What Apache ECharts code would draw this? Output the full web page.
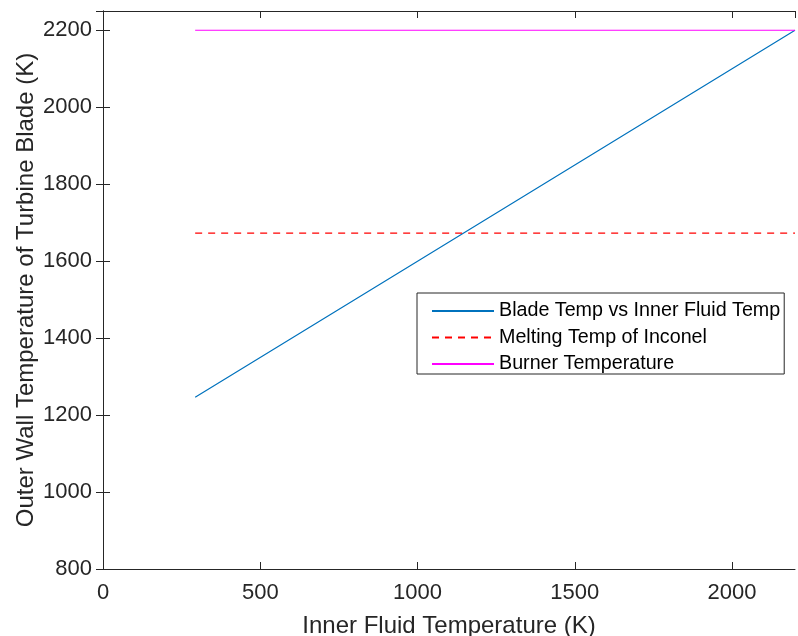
<!DOCTYPE html>
<html>
<head>
<meta charset="utf-8">
<script src="https://cdn.jsdelivr.net/npm/echarts@6/dist/echarts.min.js"></script>
<style>html,body{margin:0;padding:0;background:#fff}#c{width:798px;height:636px}</style>
</head>
<body>
<div id="c"></div>
<script>
// Data
const bladeX = [293, 1000, 2200];
const bladeY = [1246.5, 1600, 2200];
const meltX = [293, 2200];
const meltY = [1673, 1673];
const burnerX = [293, 2200];
const burnerY = [2200, 2200];
const xTicks = [0, 500, 1000, 1500, 2000];
const yTicks = [800, 1000, 1200, 1400, 1600, 1800, 2000, 2200];
const seriesNames = ['Blade Temp vs Inner Fluid Temp', 'Melting Temp of Inconel', 'Burner Temperature'];

const zip = (xs, ys) => xs.map((x, i) => [x, ys[i]]);
const ink = '#262626';
const font = 'Liberation Sans, Arial, Helvetica, sans-serif';

const axisCommon = {
  axisLine: { show: true, lineStyle: { color: ink, width: 1 } },
  axisTick: { show: true, inside: true, length: 7, lineStyle: { color: ink } },
  splitLine: { show: false }
};

const chart = echarts.init(document.getElementById('c'), null, { renderer: 'canvas' });
chart.setOption({
  animation: false,
  backgroundColor: '#fff',
  grid: { left: 103, right: 3, top: 11, bottom: 67, containLabel: false, outerBoundsMode: 'none' },
  xAxis: [
    Object.assign({}, axisCommon, {
      type: 'value', min: 0, max: 2200, interval: 500, position: 'bottom',
      name: 'Inner Fluid Temperature (K)', nameLocation: 'middle', nameGap: 45, nameMoveOverlap: false,
      nameTextStyle: { color: ink, fontSize: 24, fontFamily: font },
      axisLabel: { color: ink, fontSize: 22, fontFamily: font, margin: 13, showMaxLabel: false,
        formatter: v => xTicks.includes(v) ? String(v) : '' }
    }),
    Object.assign({}, axisCommon, {
      type: 'value', min: 0, max: 2200, interval: 500, position: 'top',
      axisLabel: { show: false }
    })
  ],
  yAxis: [
    Object.assign({}, axisCommon, {
      type: 'value', min: 800, max: 2250, interval: 200, position: 'left',
      name: 'Outer Wall Temperature of Turbine Blade (K)', nameLocation: 'middle', nameGap: 65, nameMoveOverlap: false,
      nameTextStyle: { color: ink, fontSize: 24, fontFamily: font },
      axisLabel: { color: ink, fontSize: 22, fontFamily: font, margin: 11, showMaxLabel: false,
        formatter: v => yTicks.includes(v) ? String(v) : '' }
    }),
    Object.assign({}, axisCommon, {
      type: 'value', min: 800, max: 2250, interval: 200, position: 'right',
      axisLabel: { show: false }
    })
  ],
  legend: {
    show: true,
    orient: 'vertical', left: 417, top: 293,
    backgroundColor: '#fff', borderColor: ink, borderWidth: 1,
    padding: [8, 4, 0, 14],
    itemWidth: 62, itemHeight: 18, itemGap: 6.5,
    itemStyle: { opacity: 0 },
    textStyle: { color: '#000', fontSize: 19.7, lineHeight: 16, fontFamily: font },
    data: seriesNames
  },
  series: [
    { name: seriesNames[0], type: 'line', data: zip(bladeX, bladeY), symbol: 'none',
      lineStyle: { color: '#0072BD', width: 1.2 }, itemStyle: { color: '#0072BD' } },
    { name: seriesNames[1], type: 'line', data: zip(meltX, meltY), symbol: 'none',
      lineStyle: { color: '#FF0000', width: 1.2, type: [7, 6] }, itemStyle: { color: '#FF0000' } },
    { name: seriesNames[2], type: 'line', data: zip(burnerX, burnerY), symbol: 'none',
      lineStyle: { color: '#FF00FF', width: 1.2 }, itemStyle: { color: '#FF00FF' } }
  ]
});
</script>
</body>
</html>
